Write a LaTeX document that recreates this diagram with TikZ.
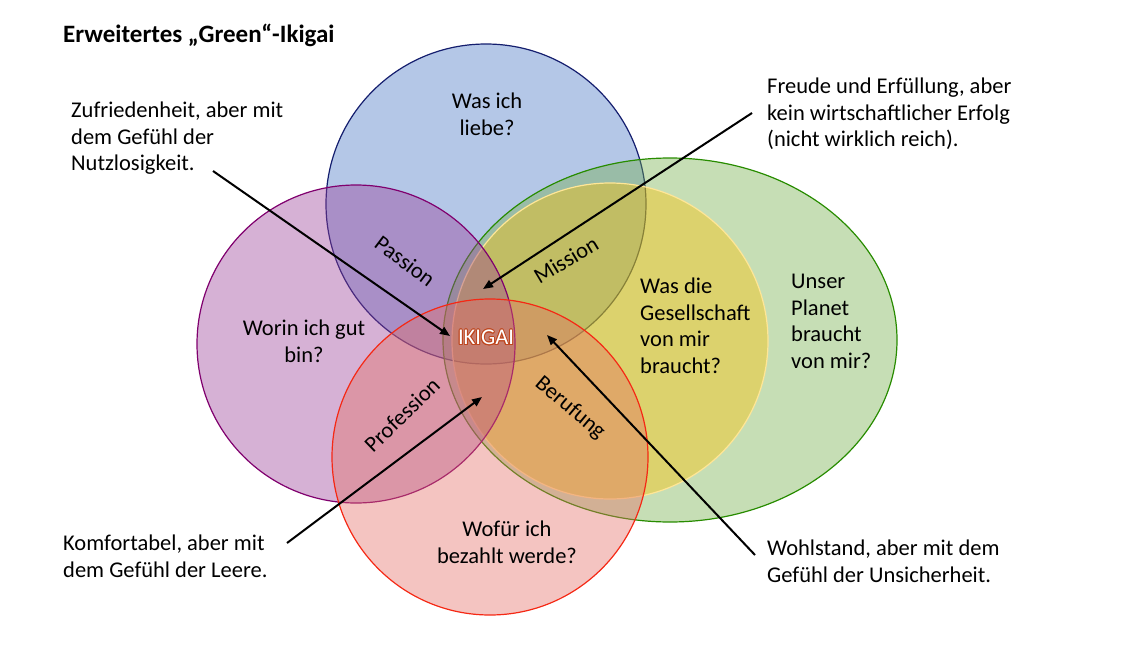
\documentclass[tikz,border=0pt]{standalone}
\usepackage{fontspec}
\setmainfont{Carlito}
\usepackage{xcolor}
\usepackage{tikz}
\usepackage[copies]{contour}
\usetikzlibrary{arrows.meta}
\definecolor{ikiblue}{RGB}{68,114,196}
\definecolor{ikibluedraw}{RGB}{20,30,110}
\definecolor{ikipurple}{RGB}{153,60,150}
\definecolor{ikipurpledraw}{RGB}{128,0,110}
\definecolor{ikired}{RGB}{228,108,100}
\definecolor{ikireddraw}{RGB}{245,40,20}
\definecolor{ikiyellow}{RGB}{255,192,0}
\definecolor{ikiyellowdraw}{RGB}{255,230,150}
\definecolor{ikigreen}{RGB}{112,173,71}
\definecolor{ikigreendraw}{RGB}{40,140,0}
\definecolor{ikiglow}{RGB}{190,70,30}
\contourlength{0.9pt}

\begin{document}
\begin{tikzpicture}[x=1pt, y=-1pt,
  txt/.style={font=\fontsize{22.5}{26.7}\selectfont, inner sep=0pt},
  area/.style={fill opacity=0.4, line width=1.2pt},
  arr/.style={line width=2pt, -{Triangle[length=10pt,width=8pt]}}]
\useasboundingbox (0,0) rectangle (1134,669);
\draw[area, fill=ikiblue, draw=ikibluedraw] (486,204) circle[radius=160];
\draw[area, fill=ikigreen, draw=ikigreendraw] (670,340) ellipse[x radius=227, y radius=182];
\draw[area, fill=ikiyellow, draw=ikiyellowdraw] (610,341) circle[radius=158];
\draw[area, fill=ikipurple, draw=ikipurpledraw] (356,344) circle[radius=159];
\draw[area, fill=ikired, draw=ikireddraw] (490,457) circle[radius=158];

\node[txt, anchor=base west, font=\fontsize{25}{30}\selectfont\bfseries] (title) at (63,42) {Erweitertes „Green“-Ikigai};

\node[txt, anchor=north, align=center] (liebe) at (487,89.5) {\strut Was ich\\liebe?};
\node[txt, anchor=north, align=center] (gut) at (304,316.5) {\strut Worin ich gut\\bin?};
\node[txt, anchor=north, align=center] (bezahlt) at (507,517.5) {\strut Wofür ich\\bezahlt werde?};
\node[txt, anchor=north west, align=left] (gesellschaft) at (640,274.5) {\strut Was die\\Gesellschaft\\von mir\\braucht?};
\node[txt, anchor=north west, align=left] (planet) at (791,269.5) {\strut Unser\\Planet\\braucht\\von mir?};

\node[txt, rotate=-37] (passion) at (405,261) {Passion};
\node[txt, rotate=31] (mission) at (566,260) {Mission};
\node[txt, rotate=44] (profession) at (402,415) {Profession};
\node[txt, rotate=-40] (berufung) at (570,408) {Berufung};
\node[txt, text=white] (ikigai) at (486,338) {\contour{ikiglow}{IKIGAI}};

\node[txt, anchor=north west, align=left] (zufrieden) at (71,98.5) {\strut Zufriedenheit, aber mit\\dem Gefühl der\\Nutzlosigkeit.};
\node[txt, anchor=north west, align=left] (freude) at (767,74.5) {\strut Freude und Erfüllung, aber\\kein wirtschaftlicher Erfolg\\(nicht wirklich reich).};
\node[txt, anchor=north west, align=left] (komfort) at (63,531.5) {\strut Komfortabel, aber mit\\dem Gefühl der Leere.};
\node[txt, anchor=north west, align=left] (wohlstand) at (767,536.5) {\strut Wohlstand, aber mit dem\\Gefühl der Unsicherheit.};

\coordinate (zufriedenA) at (213,171);
\coordinate (zufriedenB) at (450,336);
\coordinate (freudeA) at (752,113);
\coordinate (freudeB) at (483,289);
\coordinate (komfortA) at (287,543);
\coordinate (komfortB) at (482,397);
\coordinate (wohlstandA) at (755,555);
\coordinate (wohlstandB) at (547,335);
\draw[arr] (zufriedenA) -- (zufriedenB);
\draw[arr] (freudeA) -- (freudeB);
\draw[arr] (komfortA) -- (komfortB);
\draw[arr] (wohlstandA) -- (wohlstandB);
\end{tikzpicture}
\end{document}
